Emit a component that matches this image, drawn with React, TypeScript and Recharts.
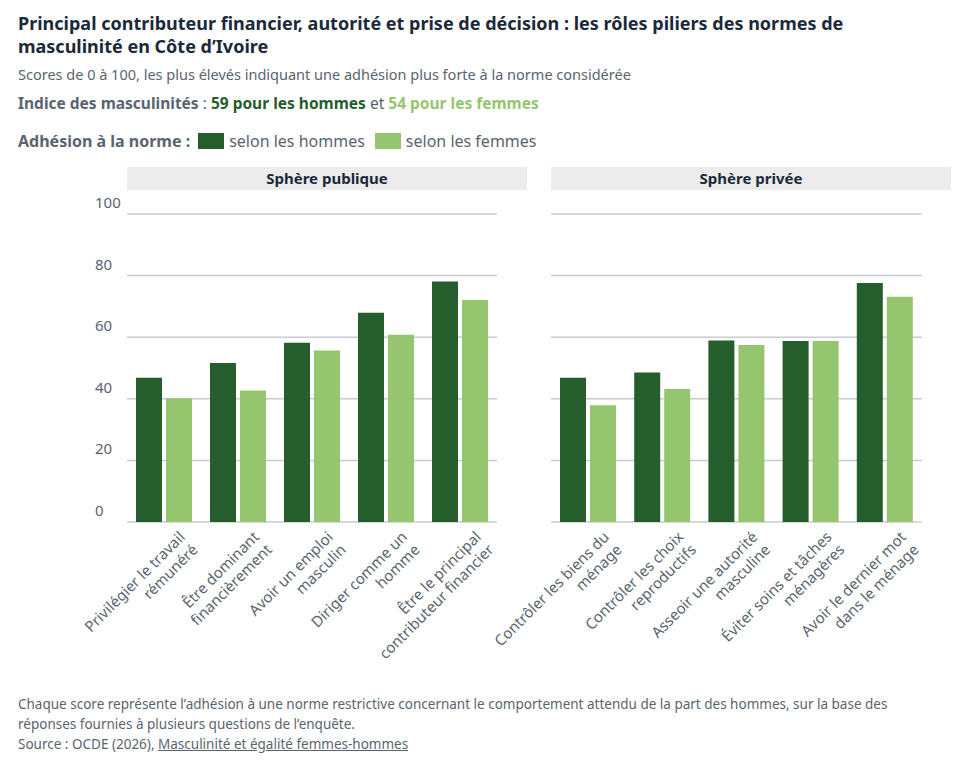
import React from "react";
import { BarChart, Bar, XAxis, YAxis, CartesianGrid } from "recharts";

const publicCats = [
  ["Privilégier le travail", "rémunéré"],
  ["Être dominant", "financièrement"],
  ["Avoir un emploi", "masculin"],
  ["Diriger comme un", "homme"],
  ["Être le principal", "contributeur financier"],
];
const publicMen = [46.8, 51.6, 58.2, 67.9, 78.1];
const publicWomen = [40.1, 42.7, 55.7, 60.8, 72.1];

const privateCats = [
  ["Contrôler les biens du", "ménage"],
  ["Contrôler les choix", "reproductifs"],
  ["Asseoir une autorité", "masculine"],
  ["Éviter soins et tâches", "ménagères"],
  ["Avoir le dernier mot", "dans le ménage"],
];
const privateMen = [46.8, 48.5, 58.9, 58.8, 77.6];
const privateWomen = [37.9, 43.2, 57.5, 58.8, 73.1];

const yTicks = [0, 20, 40, 60, 80, 100];

const DARK = "#255e2c";
const LIGHT = "#96c56f";
const FONT = "'Noto Sans', 'Open Sans', sans-serif";

const build = (cats: string[][], m: number[], w: number[]) =>
  cats.map((c, i) => ({ name: c.join("|"), men: m[i], women: w[i] }));

const XTick = (props: any) => {
  const { x, y, payload } = props;
  const lines = String(payload.value).split("|");
  return (
    <g transform={`translate(${x + 22},${y + 8}) rotate(-45)`}>
      <text textAnchor="end" fill="#5a6470" fontSize={15} fontFamily={FONT}>
        {lines.map((l, i) => (
          <tspan key={i} x={0} dy={i === 0 ? 0 : 18}>{l}</tspan>
        ))}
      </text>
    </g>
  );
};

const YTick = (props: any) => {
  const { y, payload } = props;
  return (
    <text x={5} y={y - 6} fill="#5a6470" fontSize={15} fontFamily={FONT}>
      {payload.value}
    </text>
  );
};

const Panel = ({ data, showY, width }: { data: any[]; showY: boolean; width: number }) => (
  <BarChart
    width={width}
    height={470}
    data={data}
    margin={{ top: 19, right: 0, bottom: 0, left: 0 }}
    barSize={26}
    barGap={4}
    style={{ overflow: "visible" }}
  >
    <CartesianGrid vertical={false} stroke="#c8ccd0" strokeWidth={1.5} />
    <XAxis dataKey="name" tick={<XTick />} interval={0} height={143} axisLine={false} tickLine={false} />
    <YAxis
      hide={!showY}
      width={37}
      domain={[0, 100]}
      ticks={yTicks}
      tick={<YTick />}
      axisLine={false}
      tickLine={false}
    />
    <Bar dataKey="men" fill={DARK} isAnimationActive={false} />
    <Bar dataKey="women" fill={LIGHT} isAnimationActive={false} />
  </BarChart>
);

export default function App() {
  const txt = { position: "absolute" as const, fontFamily: FONT, margin: 0 };
  return (
    <div style={{ position: "absolute", left: 0, top: 0, width: 976, height: 780, background: "#fff", fontFamily: FONT, overflow: "hidden" }}>
      <style>{`svg.recharts-surface{overflow:visible}`}</style>
      <div style={{ ...txt, left: 18, top: 12, width: 900, fontSize: 18, fontWeight: 700, color: "#1b2a3a", lineHeight: "23px" }}>
        Principal contributeur financier, autorité et prise de décision : les rôles piliers des normes de masculinité en Côte d’Ivoire
      </div>
      <div style={{ ...txt, left: 18, top: 64, fontSize: 14.5, color: "#5a6470" }}>
        Scores de 0 à 100, les plus élevés indiquant une adhésion plus forte à la norme considérée
      </div>
      <div style={{ ...txt, left: 18, top: 92, fontSize: 15.5, color: "#5a6470" }}>
        <b>Indice des masculinités</b> : <b style={{ color: DARK }}>59 pour les hommes</b> et <b style={{ color: LIGHT }}>54 pour les femmes</b>
      </div>
      <div style={{ ...txt, left: 18, top: 130, fontSize: 16, color: "#5a6470", display: "flex", alignItems: "center" }}>
        <b>Adhésion à la norme :</b>
        <span style={{ display: "inline-block", width: 26, height: 16, background: DARK, margin: "0 5px 0 8px" }} />
        selon les hommes
        <span style={{ display: "inline-block", width: 26, height: 16, background: LIGHT, margin: "0 5px 0 10px" }} />
        selon les femmes
      </div>
      <div style={{ ...txt, left: 127, top: 167, width: 400, height: 23, background: "#ececec", textAlign: "center", fontSize: 15, fontWeight: 700, color: "#1b2a3a", lineHeight: "23px" }}>
        Sphère publique
      </div>
      <div style={{ ...txt, left: 551, top: 167, width: 400, height: 23, background: "#ececec", textAlign: "center", fontSize: 15, fontWeight: 700, color: "#1b2a3a", lineHeight: "23px" }}>
        Sphère privée
      </div>
      <div style={{ position: "absolute", left: 90, top: 195 }}>
        <Panel data={build(publicCats, publicMen, publicWomen)} showY={true} width={407} />
      </div>
      <div style={{ position: "absolute", left: 551, top: 195 }}>
        <Panel data={build(privateCats, privateMen, privateWomen)} showY={false} width={371} />
      </div>
      <div style={{ ...txt, left: 18, top: 694, width: 930, fontSize: 13.5, color: "#5a6470", lineHeight: "20px" }}>
        Chaque score représente l’adhésion à une norme restrictive concernant le comportement attendu de la part des hommes, sur la base des réponses fournies à plusieurs questions de l’enquête.
        <br />
        Source : OCDE (2026), <u>Masculinité et égalité femmes-hommes</u>
      </div>
    </div>
  );
}
